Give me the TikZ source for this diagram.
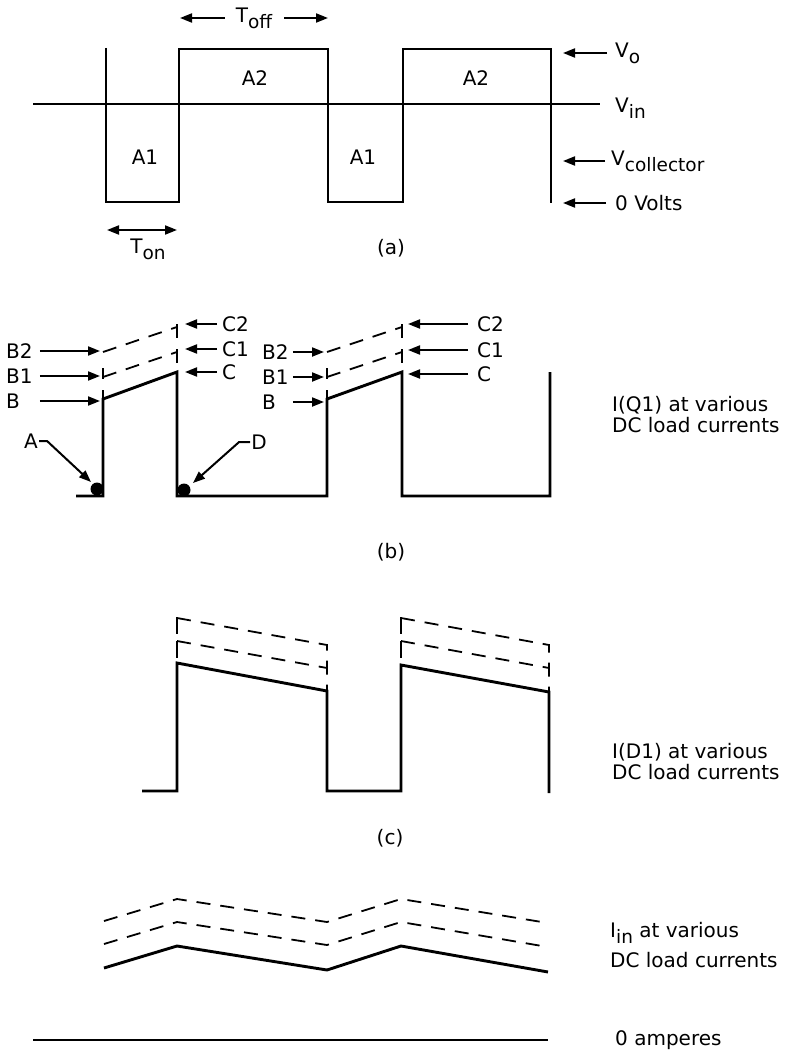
\documentclass[tikz,border=0pt]{standalone}
\usepackage{fontspec}
\setmainfont{DejaVu Sans}
\usepackage{tikz}
\usetikzlibrary{arrows.meta}
\newcommand{\lblfont}{\fontsize{20}{21}\selectfont}
\newcommand{\sbs}[1]{\raisebox{-6pt}{\fontsize{18.5}{18.5}\selectfont #1}}

\begin{document}
\begin{tikzpicture}[x=1pt, y=-1pt,
  wave/.style={line width=2.9pt, line join=miter},
  dsh/.style={line width=1.8pt, dash pattern=on 14pt off 10pt},
  arr/.style={-{Triangle[length=12pt, width=9pt]}, line width=2pt},
  tag/.style={arr, shorten <=7pt},
  lbl/.style={font=\lblfont, inner sep=0pt},
  note/.style={lbl, anchor=west, align=left}
]
\useasboundingbox (0,0) rectangle (785,1062);

%--- (a) collector voltage ---
\draw[wave] (33,104) -- (600,104);
\draw[wave] (106,48) -- (106,202) -- (179,202) -- (179,49) -- (328,49) -- (328,202)
  -- (403,202) -- (403,49) -- (551,49) -- (551,203);
\node[lbl] (a1l) at (145,157) {A1};
\node[lbl] (a2l) at (255,78)  {A2};
\node[lbl] (a1r) at (363,157) {A1};
\node[lbl] (a2r) at (476,78)  {A2};

\node[lbl] (toff) at (254,18) {T\sbs{off}};
\coordinate (toffL) at (180,18);
\coordinate (toffR) at (328,18);
\draw[tag, shorten <=11pt] (toff.west) -- (toffL);
\draw[tag, shorten <=12pt] (toff.east) -- (toffR);

\coordinate (tonL) at (107,230);
\coordinate (tonR) at (177,230);
\draw[{Triangle[length=12pt, width=9pt]}-{Triangle[length=12pt, width=9pt]}, line width=2pt] (tonL) -- (tonR);
\node[lbl] (ton) at (148,249) {T\sbs{on}};
\node[lbl] (capa) at (391,248) {(a)};

\node[lbl, anchor=west] (vo)   at (615,53)  {V\sbs{o}};
\node[lbl, anchor=west] (vin)  at (615,108) {V\sbs{in}};
\node[lbl, anchor=west] (vcol) at (611,161) {V\sbs{collector}};
\node[lbl, anchor=west] (zv)   at (615,203) {0 Volts};
\coordinate (tVo)   at (563,53);
\coordinate (tVcol) at (563,161);
\coordinate (tZv)   at (563,203);
\draw[tag, shorten <=8pt] (vo.west) -- (tVo);
\draw[tag, shorten <=6pt] (vcol.west) -- (tVcol);
\draw[tag, shorten <=9pt] (zv.west) -- (tZv);

%--- (b) I(Q1) ---
\draw[wave] (76,496) -- (103,496) -- (103,399) -- (177,372) -- (177,496) -- (327,496)
  -- (327,399) -- (402,372) -- (402,496) -- (550,496) -- (550,372);
\foreach \xa/\xb in {103/177, 327/402} {
  \draw[dsh, dash pattern=on 11pt off 11pt] (\xa,368) -- (\xa,399);
  \draw[dsh] (\xa,377) -- (\xb,352);
  \draw[dsh] (\xa,352) -- (\xb,327);
  \draw[dsh, dash pattern=on 14pt off 11pt] (\xb,324) -- (\xb,372);
}

\node[lbl, anchor=west] (b2a) at (6,351) {B2};
\node[lbl, anchor=west] (b1a) at (6,376) {B1};
\node[lbl, anchor=west] (ba)  at (6,401) {B};
\coordinate (tB2a) at (100,351);
\coordinate (tB1a) at (100,376);
\coordinate (tBa)  at (100,401);
\draw[tag] (b2a.east) -- (tB2a);
\draw[tag] (b1a.east -| b2a.east) -- (tB1a);
\draw[tag] (ba.east -| b2a.east) -- (tBa);

\node[lbl, anchor=west] (c2a) at (222,324) {C2};
\node[lbl, anchor=west] (c1a) at (222,349) {C1};
\node[lbl, anchor=west] (ca)  at (222,372) {C};
\coordinate (tC2a) at (185,324);
\coordinate (tC1a) at (185,349);
\coordinate (tCa)  at (185,372);
\draw[tag, shorten <=5pt] (c2a.west) -- (tC2a);
\draw[tag, shorten <=5pt] (c1a.west) -- (tC1a);
\draw[tag, shorten <=5pt] (ca.west) -- (tCa);

\node[lbl, anchor=west] (b2b) at (262,352) {B2};
\node[lbl, anchor=west] (b1b) at (262,377) {B1};
\node[lbl, anchor=west] (bb)  at (262,402) {B};
\coordinate (tB2b) at (324,352);
\coordinate (tB1b) at (324,377);
\coordinate (tBb)  at (324,402);
\draw[tag, shorten <=4pt] (b2b.east) -- (tB2b);
\draw[tag, shorten <=4pt] (b1b.east -| b2b.east) -- (tB1b);
\draw[tag, shorten <=4pt] (bb.east -| b2b.east) -- (tBb);

\node[lbl, anchor=west] (c2b) at (477,324) {C2};
\node[lbl, anchor=west] (c1b) at (477,350) {C1};
\node[lbl, anchor=west] (cb)  at (477,374) {C};
\coordinate (tC2b) at (408,324);
\coordinate (tC1b) at (408,350);
\coordinate (tCb)  at (408,374);
\draw[tag, shorten <=9pt] (c2b.west) -- (tC2b);
\draw[tag, shorten <=9pt] (c1b.west) -- (tC1b);
\draw[tag, shorten <=9pt] (cb.west) -- (tCb);

% points A and D
\fill (97,489) circle (6.5pt);
\fill (184,490) circle (6.5pt);
\node[lbl] (la) at (31,441) {A};
\node[lbl] (ld) at (259,442) {D};
\coordinate (tA) at (91,482);
\coordinate (tD) at (193,483);
\draw[arr, shorten <=1pt] (la.east) -- ++(9,0) -- (tA);
\draw[arr, shorten <=1pt] (ld.west) -- ++(-12,0) -- (tD);

\node[lbl] (capb) at (391,552) {(b)};
\node[note] (iq1) at (612,415) {I(Q1) at various\\DC load currents};

%--- (c) I(D1) ---
\draw[wave] (142,791) -- (177,791) -- (177,663) -- (327,691) -- (327,791) -- (401,791)
  -- (401,665) -- (549,692) -- (549,793);
\foreach \xa/\xb in {177/327, 401/549} {
  \draw[dsh, dash pattern=on 17pt off 7pt] (\xa,617) -- (\xa,663);
  \draw[dsh] (\xa,618) -- (\xb,645) -- (\xb,691);
  \draw[dsh] (\xa,641) -- (\xb,668);
}
\node[lbl] (capc) at (390,838) {(c)};
\node[note] (id1) at (612,762) {I(D1) at various\\DC load currents};

%--- (d) input current ---
\draw[wave] (104,968) -- (177,946) -- (327,970) -- (401,946) -- (548,972);
\draw[dsh] (104,944) -- (177,922) -- (327,945) -- (401,922) -- (548,947);
\draw[dsh] (104,921) -- (177,899) -- (327,922) -- (401,899) -- (548,923);
\node[note] (iin) at (610,945) {I\sbs{in} at various\\[7pt]DC load currents};

\draw[wave] (33,1040) -- (548,1040);
\node[lbl, anchor=west] (zamp) at (615,1040) {0 amperes};

\end{tikzpicture}
\end{document}
